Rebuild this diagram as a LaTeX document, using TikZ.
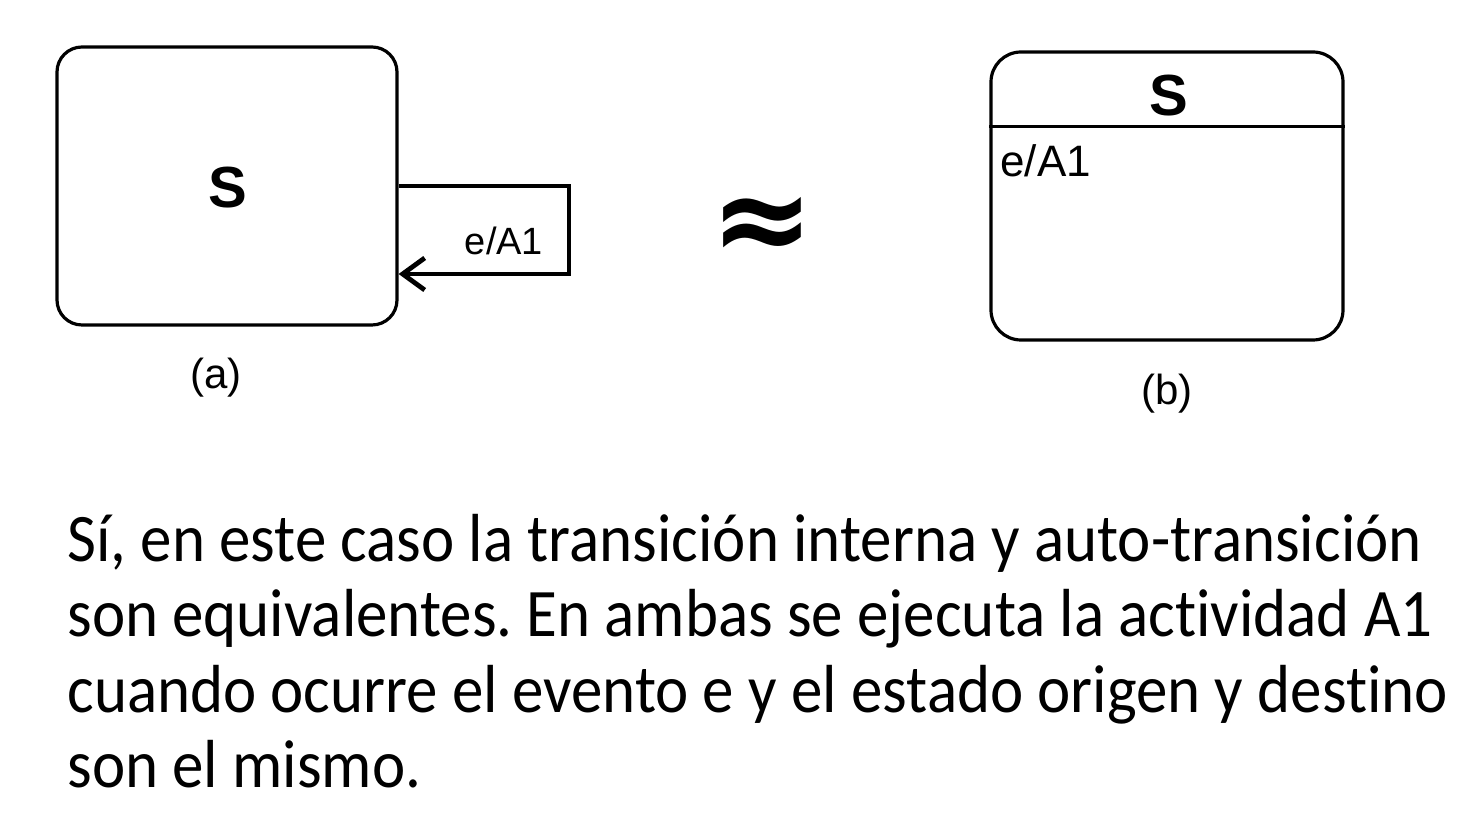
\documentclass[tikz,border=0pt]{standalone}
\usepackage{fontspec}
\usepackage{graphicx}
\usetikzlibrary{arrows.meta}
\setmainfont{Carlito}[Ligatures=NoCommon]
\newfontfamily\diag{Liberation Sans}
\newfontfamily\symf{DejaVu Sans}
\frenchspacing
\newcommand\bodytext[1]{\scalebox{0.926}[1]{#1}}
\tikzset{
  statebox/.style={draw=black, line width=1.6pt, rounded corners=#1, inner sep=0pt, fill=white},
  loopline/.style={draw=black, line width=2.4pt, -{Straight Barb[length=11pt,width=16pt,line width=2.4pt]}},
  divline/.style={draw=black, line width=1.6pt},
  sname/.style={font=\diag\fontsize{29pt}{30pt}\selectfont\bfseries, inner sep=0pt},
  trlabel/.style={font=\diag\fontsize{#1}{22pt}\selectfont, inner sep=0pt},
  caption/.style={font=\diag\fontsize{21pt}{24pt}\selectfont, inner sep=0pt},
  bodyline/.style={font=\fontsize{34pt}{38pt}\selectfont, inner sep=0pt, anchor=base west},
}
\begin{document}
\begin{tikzpicture}[x=0.5pt,y=-0.5pt]
\useasboundingbox (0,0) rectangle (1480,822);
% (a)
\node[statebox=12.5pt, minimum width=170pt, minimum height=139pt] (A) at (227,186) {};
\node[sname] (SA) at (228,188) {S};
\coordinate (LoopTR) at (569,186);
\coordinate (LoopBR) at (569,274);
\draw[loopline] (A.east) -- (LoopTR) -- (LoopBR) -- (A.east |- LoopBR);
\node[trlabel=19pt] (LA) at (504,241) {e/A1};
\node[caption] (CA) at (216,378) {(a)};
% approx
\node[font=\symf\fontsize{62pt}{62pt}\selectfont\bfseries, inner sep=0pt] (AP) at (762,229) {≈};
% (b)
\node[statebox=15pt, minimum width=176pt, minimum height=144pt] (B) at (1167,196) {};
\draw[divline] ([yshift=-38pt]B.north west) -- ([yshift=-38pt]B.north east);
\node[sname] (SB) at (1169,96) {S};
\node[trlabel=22pt, anchor=base west] (LB) at (1000,177) {e/A1};
\node[caption] (CB) at (1167,394) {(b)};
% text
\node[bodyline] (T1) at (67,562) {\bodytext{Sí, en este caso la transición interna y auto-transición}};
\node[bodyline] (T2) at (67,637) {\bodytext{son equivalentes. En ambas se ejecuta la actividad A1}};
\node[bodyline] (T3) at (67,713) {\bodytext{cuando ocurre el evento e y el estado origen y destino}};
\node[bodyline] (T4) at (67,788) {\bodytext{son el mismo.}};
\end{tikzpicture}
\end{document}
